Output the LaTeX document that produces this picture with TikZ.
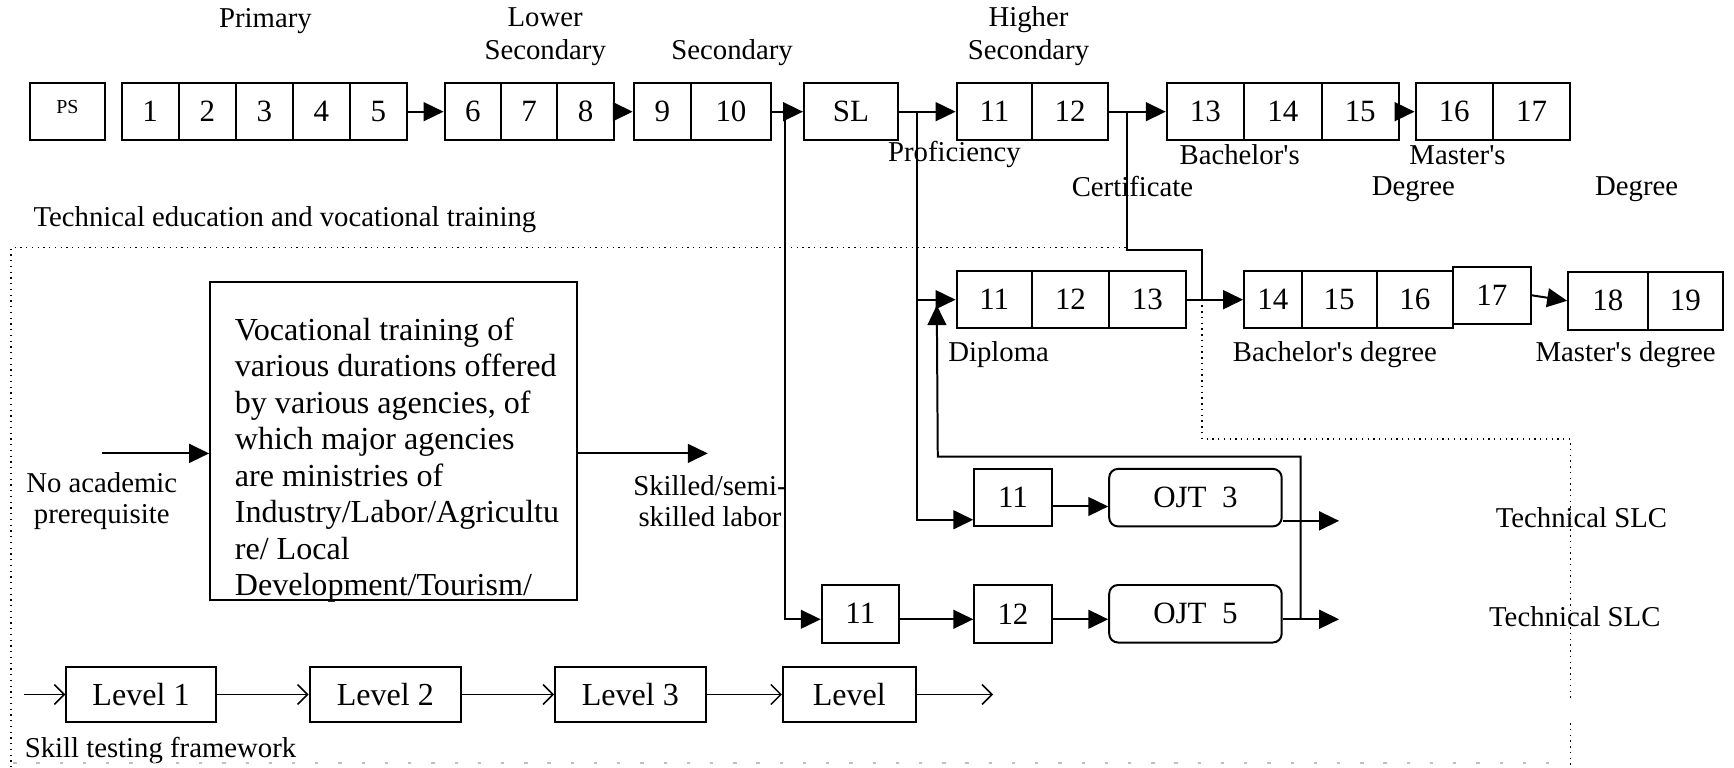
\documentclass[tikz,border=0pt]{standalone}
\usepackage{fontspec}
\setmainfont{Liberation Serif}
\usetikzlibrary{arrows.meta,calc}
\begin{document}
\begin{tikzpicture}[x=0.5pt,y=-0.5pt,
 cell/.style={draw, line width=0.9pt, inner sep=0pt, minimum height=26pt, font=\fontsize{14}{16}\selectfont},
 ojt/.style={cell, rounded corners=4pt},
 lvl/.style={cell, minimum height=25pt, font=\fontsize{14.5}{16}\selectfont},
 lab/.style={font=\fontsize{13}{15}\selectfont, inner sep=0pt, align=center},
 arr/.style={line width=0.9pt, -{Triangle[length=9pt,width=8.5pt]}},
 ln/.style={line width=0.9pt},
 oarr/.style={line width=0.7pt, -{Straight Barb[length=4.5pt,width=9pt]}},
 frame/.style={line width=0.6pt, dotted},
]
\useasboundingbox (0,0) rectangle (1568,694);

% ---------- top labels
\node[lab] (tprim) at (240,19) {Primary};
\node[lab] (tlow) at (493,33) {Lower\\Secondary};
\node[lab] (tsec) at (662,48) {Secondary};
\node[lab] (thigh) at (930,33) {Higher\\Secondary};

% ---------- top row
\node[cell, minimum width=34pt] (ps) at (61,101) {\raisebox{4.5pt}{\fontsize{9}{10}\selectfont PS}\hspace{7pt}};
\node[cell, minimum width=25.8pt] (p1) at (135.8,101) {1};
\node[cell, minimum width=25.8pt] (p2) at (187.4,101) {2};
\node[cell, minimum width=25.8pt] (p3) at (239,101) {3};
\node[cell, minimum width=25.8pt] (p4) at (290.6,101) {4};
\node[cell, minimum width=25.8pt] (p5) at (342.2,101) {5};
\node[cell, minimum width=25.5pt] (s6) at (427.5,101) {6};
\node[cell, minimum width=25.5pt] (s7) at (478.5,101) {7};
\node[cell, minimum width=25.5pt] (s8) at (529.5,101) {8};
\node[cell, minimum width=26pt] (s9) at (599,101) {9};
\node[cell, minimum width=36pt] (s10) at (661,101) {10};
\node[cell, minimum width=42.5pt] (sl) at (769.5,101) {SL};
\node[cell, minimum width=34.25pt] (h11) at (899.25,101) {11};
\node[cell, minimum width=34.25pt] (h12) at (967.75,101) {12};
\node[cell, minimum width=35pt] (b13) at (1090,101) {13};
\node[cell, minimum width=35pt] (b14) at (1160,101) {14};
\node[cell, minimum width=35pt] (b15) at (1230,101) {15};
\node[cell, minimum width=35pt] (m16) at (1315,101) {16};
\node[cell, minimum width=35pt] (m17) at (1385,101) {17};

\draw[arr] (p5.east) -- (s6.west);
\draw[arr] (s8.east) -- (s9.west);
\draw[arr] (s10.east) -- (sl.west);
\draw[arr] (sl.east) -- (h11.west);
\draw[arr] (h12.east) -- (b13.west);
\draw[arr] (b15.east) -- (m16.west);

\node[lab] (lprof) at (863,140) {Proficiency};
\node[lab] (lcert) at (1024,169) {Certificate};
\node[lab] (lbach) at (1121,140) {Bachelor\textquotesingle s};
\node[lab] (lmast) at (1318,140) {Master\textquotesingle s};
\node[lab] (ldeg1) at (1278,171) {Degree};
\node[lab] (ldeg2) at (1480,171) {Degree};

\node[lab, anchor=west] (ltech) at (30,199) {Technical education and vocational training};

% ---------- diploma row
\node[cell, minimum width=34pt] (d11) at (899,271) {11};
\node[cell, minimum width=35pt] (d12) at (968,271) {12};
\node[cell, minimum width=34.5pt] (d13) at (1037.5,271) {13};
\node[cell, minimum width=26pt] (e14) at (1151,271) {14};
\node[cell, minimum width=34pt] (e15) at (1211,271) {15};
\node[cell, minimum width=34.5pt] (e16) at (1279.5,271) {16};
\node[cell, minimum width=35pt] (e17) at (1349,267) {17};
\node[cell, minimum width=36pt] (e18) at (1454,272) {18};
\node[cell, minimum width=34pt] (e19) at (1524,272) {19};

\draw[arr] (d13.east) -- (e14.west);
\draw[arr] (e17.east) -- (e18.west);

\node[lab] (ldip) at (903,321) {Diploma};
\node[lab] (lbd) at (1207,321) {Bachelor\textquotesingle s degree};
\node[lab] (lmd) at (1470,321) {Master\textquotesingle s degree};

% ---------- technical rows
\node[cell, minimum width=35pt] (u11) at (916,450) {11};
\node[ojt, minimum width=78pt] (ojt3) at (1081,450) {OJT\ \ 3};
\node[cell, minimum width=35pt] (l11) at (778,555) {11};
\node[cell, minimum width=35pt] (l12) at (916,555) {12};
\node[ojt, minimum width=78pt] (ojt5) at (1081,555) {OJT\ \ 5};

\draw[arr] ([yshift=-4pt]u11.east) -- ([yshift=-4pt]ojt3.west);
\draw[arr] ([yshift=-2.5pt]l11.east) -- ([yshift=-2.5pt]l12.west);
\draw[arr] ([yshift=-2.5pt]l12.east) -- ([yshift=-2.5pt]ojt5.west);

\coordinate (t1) at ($(ojt3.east)+(51,21)$);
\coordinate (t2) at ($(ojt5.east)+(51,5)$);
\draw[arr] ([yshift=-10.5pt]ojt3.east) -- (t1);
\draw[arr] ([yshift=-2.5pt]ojt5.east) -- (t2);

\node[lab] (tslc1) at (1430,468) {Technical SLC};
\node[lab] (tslc2) at (1424,558) {Technical SLC};

% ---------- junction lines
\coordinate (ja) at (710,101);
\coordinate (jb) at (829,101);
\coordinate (jd) at (1019,101);
\coordinate (je) at (1087,271);
\coordinate (jc) at (1176,560);
\coordinate (lp) at (848,413);
\coordinate (dup) at ($(d11.west)+(-17,5)$);

\draw[arr] (ja) |- ([yshift=-2.5pt]l11.west);
\draw[arr] (jb) |- (d11.west);
\draw[arr] (jb) |- ([yshift=-10pt]u11.west);
\draw[ln] (jd) |- (1087,226) -- (je);
\draw[arr] (jc) |- (lp) -- (dup);

% ---------- vocational box
\node[draw, line width=0.9pt, minimum width=166pt, minimum height=144pt, inner sep=0pt] (voc) at (356,399) {};
\begin{scope}
\clip (voc.south west) rectangle (voc.north east);
\node[anchor=north west, inner sep=0pt, align=left, font=\fontsize{14.5}{16.5}\selectfont] (voctext) at (212,287)
 {Vocational training of\\various durations offered\\by various agencies, of\\which major agencies\\are ministries of\\Industry/Labor/Agricultu\\re/ Local\\Development/Tourism/};
\end{scope}

\coordinate (na) at (92,410);
\coordinate (sk) at (640,410);
\draw[arr] (na) -- (na -| voc.west);
\draw[arr] (voc.east |- na) -- (sk);
\node[lab, font=\fontsize{13}{14}\selectfont] (noac) at (92,453) {No academic\\prerequisite};
\node[lab, font=\fontsize{13}{14}\selectfont] (skl) at (642,453) {Skilled/semi-\\skilled labor};

% ---------- levels
\node[lvl, minimum width=67.5pt] (lv1) at (127.5,628) {Level 1};
\node[lvl, minimum width=68.5pt] (lv2) at (348.5,628) {Level 2};
\node[lvl, minimum width=68pt] (lv3) at (570,628) {Level 3};
\node[lvl, minimum width=60pt] (lv4) at (768,628) {Level\hspace{10pt}};
\coordinate (l0) at (22,628);
\coordinate (l5) at (898,628);
\draw[oarr] (l0) -- (lv1.west);
\draw[oarr] (lv1.east) -- (lv2.west);
\draw[oarr] (lv2.east) -- (lv3.west);
\draw[oarr] (lv3.east) -- (lv4.west);
\draw[oarr] (lv4.east) -- (l5);
\node[lab, anchor=west] (lskill) at (22,679) {Skill testing framework};

% ---------- dotted frame
\draw[frame] (10,694) -- (10,224) -- (1019,224);
\draw[frame] (je) -- (1087,397) -- (1420,397) -- (1420,633);
\draw[frame] (1420,654) -- (1420,694);
\draw[line width=0.5pt, gray!50, dash pattern=on 1.5pt off 9pt] (12,690) -- (1418,690);
\end{tikzpicture}
\end{document}
